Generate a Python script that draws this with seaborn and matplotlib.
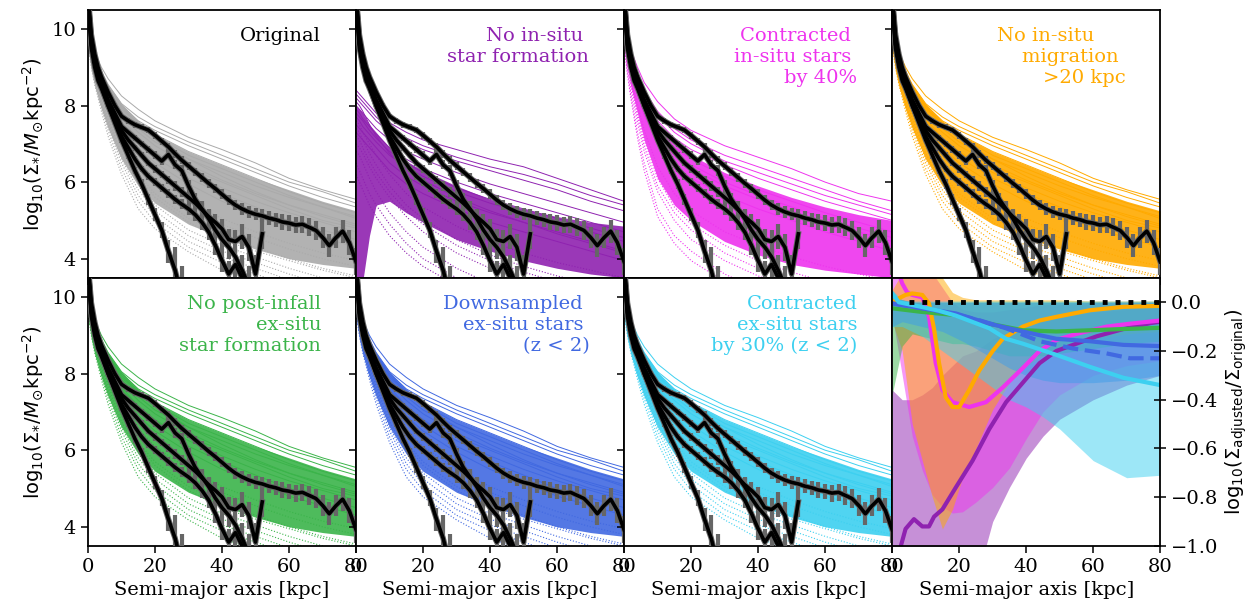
import numpy as np
import pandas as pd
import seaborn as sns
import matplotlib.pyplot as plt

plt.rcParams['font.family'] = 'DejaVu Serif'
plt.rcParams['mathtext.fontset'] = 'dejavusans'
plt.rcParams['font.size'] = 14
plt.rcParams['axes.linewidth'] = 1.3
plt.rcParams['xtick.major.size'] = 5
plt.rcParams['ytick.major.size'] = 5
plt.rcParams['xtick.major.width'] = 1.1
plt.rcParams['ytick.major.width'] = 1.1

# ---- simulated surface density profiles, log10(Sigma) at sim_r [kpc]
sim_r = [0, 1, 2, 4, 6, 10, 15, 20, 30, 40, 50, 60, 70, 80]

base_solid = [
    [10.2, 9.7, 9.4, 9.0, 8.7, 8.25, 7.9, 7.6, 7.17, 6.85, 6.5, 6.1, 5.8, 5.55],
    [10.3, 9.8, 9.4, 8.9, 8.55, 8.05, 7.7, 7.45, 7.05, 6.7, 6.35, 6.0, 5.75, 5.45],
    [10.1, 9.6, 9.25, 8.8, 8.45, 7.95, 7.55, 7.25, 6.8, 6.45, 6.1, 5.75, 5.45, 5.2],
    [10.4, 9.7, 9.3, 8.75, 8.4, 7.85, 7.4, 7.05, 6.6, 6.25, 5.9, 5.6, 5.35, 5.05],
    [10.0, 9.5, 9.15, 8.7, 8.3, 7.75, 7.3, 6.95, 6.45, 6.05, 5.7, 5.4, 5.1, 4.85],
    [10.2, 9.6, 9.2, 8.65, 8.25, 7.65, 7.15, 6.8, 6.25, 5.85, 5.5, 5.2, 4.95, 4.7],
    [9.9, 9.4, 9.05, 8.55, 8.15, 7.55, 7.05, 6.65, 6.1, 5.7, 5.35, 5.0, 4.75, 4.5],
    [10.1, 9.5, 9.1, 8.5, 8.05, 7.4, 6.9, 6.5, 5.95, 5.5, 5.15, 4.8, 4.55, 4.3],
    [10.3, 9.7, 9.35, 8.85, 8.5, 8.0, 7.6, 7.35, 6.95, 6.6, 6.25, 5.9, 5.6, 5.35],
    [10.0, 9.5, 9.2, 8.75, 8.4, 7.9, 7.5, 7.2, 6.7, 6.35, 6.0, 5.65, 5.35, 5.1],
    [10.2, 9.6, 9.2, 8.6, 8.2, 7.6, 7.1, 6.75, 6.35, 6.0, 5.65, 5.3, 5.0, 4.8],
    [10.1, 9.6, 9.3, 8.85, 8.5, 7.95, 7.5, 7.15, 6.6, 6.15, 5.75, 5.4, 5.15, 4.9],
]
base_dotted = [
    [10.0, 9.4, 9.0, 8.4, 7.9, 7.1, 6.4, 5.95, 5.3, 4.9, 4.55, 4.25, 4.0, 3.8],
    [9.8, 9.3, 8.9, 8.3, 7.8, 6.95, 6.2, 5.7, 5.05, 4.6, 4.3, 4.0, 3.75, 3.55],
    [9.9, 9.3, 8.85, 8.2, 7.65, 6.75, 5.95, 5.4, 4.75, 4.35, 4.05, 3.75, 3.5, 3.3],
    [9.7, 9.1, 8.7, 8.05, 7.45, 6.5, 5.65, 5.1, 4.45, 4.05, 3.75, 3.45, 3.2, 3.0],
    [9.6, 9.0, 8.55, 7.85, 7.2, 6.2, 5.3, 4.78, 4.18, 3.7, 3.4, 3.1, 2.9, 2.7],
    [9.9, 9.3, 8.9, 8.3, 7.75, 6.9, 6.15, 5.6, 4.95, 4.5, 4.2, 3.95, 3.7, 3.5],
    [9.8, 9.2, 8.75, 8.1, 7.55, 6.6, 5.8, 5.25, 4.6, 4.2, 3.9, 3.6, 3.35, 3.15],
    [9.7, 9.1, 8.65, 7.95, 7.35, 6.35, 5.5, 4.95, 4.3, 3.9, 3.6, 3.3, 3.1, 2.9],
    [10.1, 9.5, 9.05, 8.45, 7.95, 7.2, 6.55, 6.1, 5.5, 5.05, 4.7, 4.4, 4.15, 3.95],
]
base_core_lo = [9.5, 8.9, 8.5, 7.9, 7.4, 6.6, 5.9, 5.45, 4.9, 4.55, 4.25, 4.0, 3.85, 3.75]
base_core_hi = [10.1, 9.6, 9.3, 8.85, 8.55, 8.05, 7.6, 7.25, 6.8, 6.45, 6.1, 5.8, 5.5, 5.25]

insitu_solid = [
    [8.4, 8.3, 8.2, 8.0, 7.8, 7.55, 7.3, 7.1, 6.85, 6.6, 6.4, 6.1, 5.8, 5.5],
    [8.2, 8.1, 8.0, 7.8, 7.6, 7.3, 7.05, 6.85, 6.55, 6.3, 6.05, 5.8, 5.5, 5.25],
    [8.0, 7.9, 7.8, 7.6, 7.4, 7.1, 6.8, 6.6, 6.25, 5.95, 5.7, 5.45, 5.2, 4.95],
    [7.9, 7.8, 7.65, 7.45, 7.25, 6.9, 6.6, 6.35, 6.0, 5.7, 5.45, 5.2, 4.95, 4.7],
    [7.7, 7.6, 7.45, 7.25, 7.05, 6.7, 6.4, 6.15, 5.75, 5.45, 5.2, 4.95, 4.7, 4.45],
    [7.5, 7.4, 7.3, 7.1, 6.9, 6.5, 6.15, 5.9, 5.5, 5.2, 4.95, 4.7, 4.45, 4.2],
    [8.1, 8.0, 7.85, 7.5, 7.2, 6.75, 6.35, 6.05, 5.6, 5.25, 4.95, 4.65, 4.4, 4.15],
    [7.3, 7.2, 7.1, 6.9, 6.7, 6.3, 5.95, 5.7, 5.3, 4.95, 4.7, 4.45, 4.2, 3.95],
    [8.3, 8.2, 8.1, 7.9, 7.7, 7.4, 7.15, 6.95, 6.65, 6.4, 6.2, 5.95, 5.65, 5.4],
    [7.8, 7.7, 7.6, 7.35, 7.15, 6.8, 6.5, 6.25, 5.85, 5.55, 5.3, 5.05, 4.8, 4.55],
]
insitu_dotted = [
    [7.6, 7.5, 7.3, 7.0, 6.7, 6.2, 5.7, 5.35, 4.85, 4.45, 4.15, 3.9, 3.7, 3.5],
    [7.4, 7.3, 7.1, 6.75, 6.45, 5.9, 5.4, 5.05, 4.5, 4.1, 3.8, 3.55, 3.35, 3.2],
    [7.0, 6.9, 6.75, 6.4, 6.1, 5.6, 5.1, 4.7, 4.15, 3.75, 3.45, 3.2, 3.0, 2.8],
    [6.8, 6.7, 6.5, 6.1, 5.75, 5.2, 4.7, 4.3, 3.75, 3.35, 3.05, 2.8, 2.6, 2.4],
    [6.5, 6.3, 6.1, 5.7, 5.4, 4.9, 4.4, 4.0, 3.5, 3.1, 2.8, 2.6, 2.4, 2.2],
    [7.2, 7.1, 6.9, 6.55, 6.25, 5.75, 5.25, 4.9, 4.35, 3.95, 3.65, 3.4, 3.2, 3.0],
    [6.2, 6.0, 5.8, 5.4, 5.1, 4.6, 4.15, 3.8, 3.3, 2.9, 2.6, 2.4, 2.2, 2.0],
]
insitu_core_lo = [3.4, 3.4, 3.4, 4.6, 5.4, 5.5, 5.2, 4.95, 4.5, 4.2, 3.95, 3.75, 3.6, 3.5]
insitu_core_hi = [8.0, 7.9, 7.8, 7.5, 7.3, 6.9, 6.55, 6.3, 5.9, 5.55, 5.3, 5.1, 4.95, 4.85]

contract_solid = [
    [10.3, 9.8, 9.45, 9.0, 8.6, 8.1, 7.65, 7.35, 6.95, 6.65, 6.35, 6.0, 5.7, 5.5],
    [10.4, 9.8, 9.4, 8.85, 8.4, 7.85, 7.4, 7.1, 6.7, 6.4, 6.1, 5.8, 5.5, 5.25],
    [10.2, 9.7, 9.3, 8.7, 8.25, 7.6, 7.15, 6.85, 6.45, 6.1, 5.8, 5.5, 5.25, 5.0],
    [10.3, 9.7, 9.25, 8.6, 8.1, 7.4, 6.9, 6.6, 6.15, 5.8, 5.5, 5.2, 4.95, 4.7],
    [10.1, 9.5, 9.05, 8.4, 7.9, 7.2, 6.7, 6.35, 5.9, 5.55, 5.25, 4.95, 4.7, 4.45],
    [10.0, 9.4, 8.95, 8.3, 7.75, 7.0, 6.45, 6.1, 5.65, 5.3, 5.0, 4.7, 4.45, 4.2],
    [10.2, 9.7, 9.35, 8.8, 8.35, 7.75, 7.3, 7.0, 6.55, 6.25, 5.95, 5.65, 5.4, 5.15],
    [10.1, 9.6, 9.2, 8.55, 8.0, 7.3, 6.8, 6.45, 6.0, 5.65, 5.35, 5.05, 4.8, 4.55],
]
contract_dotted = [
    [10.0, 9.3, 8.8, 8.0, 7.35, 6.4, 5.7, 5.25, 4.7, 4.35, 4.05, 3.8, 3.6, 3.4],
    [9.9, 9.2, 8.65, 7.8, 7.1, 6.1, 5.35, 4.9, 4.35, 3.95, 3.65, 3.4, 3.2, 3.0],
    [9.8, 9.0, 8.45, 7.55, 6.8, 5.75, 5.0, 4.5, 3.95, 3.55, 3.25, 3.0, 2.8, 2.6],
    [9.7, 8.9, 8.3, 7.3, 6.5, 5.3, 4.6, 4.2, 3.6, 3.2, 2.9, 2.6, 2.4, 2.2],
    [9.9, 9.15, 8.6, 7.7, 6.95, 5.9, 5.2, 4.75, 4.15, 3.75, 3.45, 3.2, 3.0, 2.8],
    [9.6, 8.8, 8.2, 7.15, 6.3, 5.1, 4.4, 3.95, 3.4, 3.0, 2.7, 2.45, 2.25, 2.05],
]
contract_core_lo = [9.7, 9.0, 8.5, 7.8, 7.1, 6.1, 5.4, 5.0, 4.45, 4.1, 3.85, 3.7, 3.6, 3.5]
contract_core_hi = [10.2, 9.6, 9.2, 8.6, 8.15, 7.5, 7.0, 6.7, 6.25, 5.9, 5.6, 5.35, 5.15, 5.0]

# ---- observed profiles (black, with errors)
obs_r = [0, 1, 2, 3, 4] + list(range(6, 81, 2))
obs_A = [10.9, 9.85, 9.35, 9.0, 8.75, 8.35, 8.0, 7.72, 7.6, 7.5, 7.43, 7.36, 7.22, 7.07,
         6.92, 6.74, 6.57, 6.42, 6.27, 6.12, 5.97, 5.83, 5.68, 5.53, 5.4, 5.3, 5.22, 5.16,
         5.12, 5.06, 5.02, 4.96, 4.93, 4.88, 4.9, 4.82, 4.74, 4.56, 4.34, 4.55, 4.72, 4.42, 3.92]
obs_A_err = [0.05, 0.05, 0.05, 0.05, 0.05, 0.06, 0.06, 0.07, 0.07, 0.08, 0.08, 0.08, 0.09, 0.09,
             0.1, 0.1, 0.1, 0.1, 0.11, 0.11, 0.12, 0.12, 0.13, 0.13, 0.14, 0.15, 0.15, 0.16,
             0.17, 0.18, 0.18, 0.2, 0.2, 0.22, 0.22, 0.24, 0.25, 0.27, 0.3, 0.28, 0.3, 0.32, 0.35]
obs_B = [10.8, 9.7, 9.2, 8.85, 8.6, 8.15, 7.8, 7.45, 7.3, 7.15, 7.0, 6.85, 6.7, 6.55,
         6.72, 6.45, 6.3, 5.9, 5.55, 5.3, 5.05, 4.75, 4.5, 4.3, 4.05, 3.7, 3.3]
obs_B_err = [0.05, 0.05, 0.05, 0.05, 0.05, 0.06, 0.06, 0.07, 0.07, 0.08, 0.08, 0.09, 0.1, 0.1,
             0.12, 0.12, 0.14, 0.15, 0.17, 0.2, 0.22, 0.25, 0.28, 0.3, 0.35, 0.4, 0.5]
obs_C = [10.7, 9.6, 9.1, 8.8, 8.55, 8.1, 7.7, 7.35, 7.1, 6.9, 6.7, 6.5, 6.35, 6.2,
         6.05, 5.9, 5.75, 5.6, 5.45, 5.28, 5.1, 4.95, 4.78, 4.5, 4.45, 4.58, 4.3, 3.6, 4.65]
obs_C_err = [0.05, 0.05, 0.05, 0.05, 0.05, 0.06, 0.06, 0.07, 0.07, 0.08, 0.08, 0.09, 0.1, 0.1,
             0.11, 0.12, 0.13, 0.14, 0.15, 0.17, 0.2, 0.22, 0.25, 0.28, 0.3, 0.32, 0.35, 0.5, 0.4]
obs_D = [10.8, 9.6, 9.1, 8.75, 8.5, 8.0, 7.55, 7.1, 6.7, 6.3, 5.95, 5.55, 5.15, 4.75, 4.2, 3.7, 3.0]
obs_D_err = [0.05, 0.05, 0.05, 0.05, 0.05, 0.06, 0.07, 0.08, 0.09, 0.1, 0.12, 0.14, 0.17,
             0.2, 0.3, 0.6, 0.8]
obs_E = [10.7, 9.5, 9.0, 8.65, 8.45, 8.0, 7.6, 7.2, 6.9, 6.6, 6.35, 6.15, 6.0, 5.85,
         5.7, 5.55, 5.42, 5.3, 5.15, 4.95, 4.7, 4.35, 3.95, 3.6, 3.85, 3.5, 3.1]
obs_E_err = [0.05, 0.05, 0.05, 0.05, 0.05, 0.06, 0.06, 0.07, 0.07, 0.08, 0.08, 0.09, 0.1, 0.1,
             0.11, 0.12, 0.13, 0.15, 0.17, 0.2, 0.22, 0.25, 0.3, 0.35, 0.4, 0.45, 0.5]

# ---- ratio panel: median lines and scatter bands
band_r = [0, 3, 6, 9, 12, 15, 18, 21, 25, 30, 35, 40, 45, 50, 60, 70, 80]
band_purple_lo = [-1.2, -1.2, -1.2, -1.2, -1.2, -1.2, -1.2, -1.2, -1.15, -0.9, -0.76, -0.64, -0.55, -0.48, -0.4, -0.34, -0.3]
band_purple_hi = [-0.36, -0.40, -0.40, -0.38, -0.35, -0.3, -0.26, -0.22, -0.2, -0.15, -0.12, -0.09, -0.07, -0.06, -0.04, -0.03, -0.02]
band_magenta_lo = [-0.05, -0.3, -0.55, -0.69, -0.79, -0.84, -0.865, -0.86, -0.82, -0.76, -0.68, -0.56, -0.45, -0.38, -0.3, -0.26, -0.24]
band_magenta_hi = [0.15, 0.15, 0.15, 0.15, 0.12, 0.06, 0.0, -0.03, -0.04, -0.04, -0.03, -0.02, -0.01, -0.01, 0.0, 0.0, 0.0]
band_orange_lo = [-0.08, -0.2, -0.5, -0.65, -0.8, -0.93, -0.85, -0.72, -0.6, -0.44, -0.33, -0.26, -0.22, -0.19, -0.15, -0.13, -0.12]
band_orange_hi = [0.05, 0.12, 0.15, 0.15, 0.15, 0.1, 0.04, 0.02, 0.01, 0.01, 0.01, 0.01, 0.01, 0.01, 0.005, 0.005, 0.005]
band_green_lo = [-0.38, -0.18, -0.13, -0.14, -0.15, -0.16, -0.17, -0.17, -0.18, -0.2, -0.22, -0.22, -0.22, -0.21, -0.19, -0.17, -0.16]
band_green_hi = [0.02, 0.01, 0.0, 0.0, 0.0, 0.0, 0.0, 0.0, 0.0, 0.0, 0.0, 0.0, 0.0, 0.0, 0.0, 0.0, 0.0]
band_blue_lo = [-0.1, -0.08, -0.09, -0.1, -0.11, -0.12, -0.14, -0.16, -0.19, -0.23, -0.27, -0.3, -0.32, -0.33, -0.33, -0.32, -0.3]
band_blue_hi = [0.03, 0.01, 0.0, 0.0, 0.0, 0.0, 0.0, 0.0, 0.0, 0.0, 0.0, 0.0, 0.0, 0.0, 0.0, 0.0, 0.0]
band_cyan_lo = [-0.1, -0.1, -0.12, -0.14, -0.17, -0.2, -0.23, -0.26, -0.3, -0.35, -0.4, -0.43, -0.47, -0.52, -0.65, -0.72, -0.71]
band_cyan_hi = [0.05, 0.01, 0.005, 0.005, 0.005, 0.005, 0.005, 0.005, 0.005, 0.005, 0.005, 0.005, 0.005, 0.005, 0.005, 0.005, 0.005]

med_purple_r = [0, 2.6, 4, 6.5, 9, 11, 12.5, 15, 19, 24, 29, 34, 39, 44, 49, 55, 61, 69, 77, 80]
med_purple = [-1.2, -1.0, -0.93, -0.89, -0.92, -0.92, -0.88, -0.85, -0.76, -0.65, -0.52, -0.41, -0.33, -0.25, -0.2, -0.17, -0.14, -0.11, -0.086, -0.08]
med_magenta_r = [0, 2, 3, 4.5, 6, 9, 11, 13, 15, 18, 23, 28, 33, 39, 44, 49, 55, 64, 71, 80]
med_magenta = [0.2, 0.12, 0.077, 0.04, 0.03, 0.02, -0.06, -0.25, -0.36, -0.41, -0.43, -0.41, -0.35, -0.27, -0.2, -0.155, -0.13, -0.1, -0.088, -0.075]
med_orange_r = [0, 2, 4, 6, 9, 11, 12.5, 14, 16, 18, 20, 23, 26, 30, 33, 39, 44, 49, 59, 69, 80]
med_orange = [0.0, 0.016, 0.03, 0.036, 0.03, -0.005, -0.11, -0.25, -0.39, -0.43, -0.43, -0.36, -0.28, -0.2, -0.15, -0.1, -0.075, -0.06, -0.033, -0.019, -0.015]
med_green_r = [0, 9, 19, 29, 39, 49, 59, 69, 80]
med_green = [-0.025, -0.04, -0.053, -0.088, -0.115, -0.12, -0.115, -0.11, -0.105]
med_blue_r = [0, 9, 19, 29, 39, 49, 59, 69, 80]
med_blue = [-0.005, -0.025, -0.046, -0.088, -0.12, -0.15, -0.16, -0.175, -0.18]
med_blue2_r = [0, 9, 19, 26, 34, 44, 54, 64, 71, 80]
med_blue2 = [-0.005, -0.025, -0.05, -0.074, -0.107, -0.16, -0.19, -0.21, -0.23, -0.23]
med_cyan_r = [0, 2, 9, 14, 19, 29, 34, 39, 49, 59, 69, 80]
med_cyan = [0.036, 0.0, -0.02, -0.035, -0.055, -0.107, -0.15, -0.17, -0.216, -0.265, -0.31, -0.34]
zero_r = [5, 80]
zero_val = [0.0, 0.0]

c_gray, c_purple, c_magenta = '#aaaaaa', '#8f22b0', '#ee33ee'
c_orange, c_green, c_blue, c_cyan = '#ffaa00', '#3bb44a', '#4169e1', '#3dd0f0'

panels = [
    ('Original', 'black', c_gray, base_solid, base_dotted, base_core_lo, base_core_hi),
    ('No in-situ \nstar formation', c_purple, c_purple, insitu_solid, insitu_dotted, insitu_core_lo, insitu_core_hi),
    ('Contracted \nin-situ stars \nby 40%', c_magenta, c_magenta, contract_solid, contract_dotted, contract_core_lo, contract_core_hi),
    ('No in-situ     \nmigration \n>20 kpc', c_orange, c_orange, base_solid, base_dotted, base_core_lo, base_core_hi),
    ('No post-infall\nex-situ\nstar formation', c_green, c_green, base_solid, base_dotted, base_core_lo, base_core_hi),
    ('Downsampled \nex-situ stars \n(z < 2)', c_blue, c_blue, base_solid, base_dotted, base_core_lo, base_core_hi),
    ('Contracted\nex-situ stars\nby 30% (z < 2)', c_cyan, c_cyan, base_solid, base_dotted, base_core_lo, base_core_hi),
]

obs_list = [(obs_A, obs_A_err), (obs_B, obs_B_err), (obs_C, obs_C_err),
            (obs_D, obs_D_err), (obs_E, obs_E_err)]


def to_long(profiles):
    rows = []
    for i, prof in enumerate(profiles):
        for r, v in zip(sim_r, prof):
            rows.append({'r': r, 'sigma': v, 'unit': i})
    return pd.DataFrame(rows)


fig, axes = plt.subplots(2, 4, figsize=(12.57, 6.10), dpi=100, sharex=True)
fig.subplots_adjust(left=0.070, right=0.923, top=0.984, bottom=0.105, wspace=0, hspace=0)
axs = axes.ravel()

for k, (label, tcol, col, solid, dotted, core_lo, core_hi) in enumerate(panels):
    ax = axs[k]
    ax.fill_between(sim_r, core_lo, core_hi, color=col, lw=0, alpha=0.9, zorder=1)
    sns.lineplot(data=to_long(solid), x='r', y='sigma', units='unit', estimator=None,
                 color=col, lw=0.7, ax=ax, zorder=2)
    sns.lineplot(data=to_long(dotted), x='r', y='sigma', units='unit', estimator=None,
                 color=col, lw=0.8, linestyle=':', ax=ax, zorder=2)
    for prof, err in obs_list:
        x = obs_r[:len(prof)]
        # thin gray halo of the error bars along the profile
        ax.plot(x, prof, color='#666666', lw=4.0, zorder=4)
        ax.errorbar(x, prof, yerr=err, fmt='-', color='black', lw=2.6, ecolor='#666666',
                    elinewidth=3, capsize=0, zorder=5)
    ax.text(0.87, 0.935, label, transform=ax.transAxes, ha='right', va='top',
            multialignment='right', color=tcol, fontsize=14)
    ax.set_ylim(3.5, 10.5)
    ax.set_yticks([4, 6, 8, 10])
    ax.set_xlabel('')
    ax.set_ylabel('')
    if k % 4 != 0:
        ax.tick_params(labelleft=False)

# ratio panel
ax = axs[7]
bands = [(band_purple_lo, band_purple_hi, c_purple), (band_magenta_lo, band_magenta_hi, c_magenta),
         (band_orange_lo, band_orange_hi, c_orange), (band_green_lo, band_green_hi, c_green),
         (band_blue_lo, band_blue_hi, c_blue), (band_cyan_lo, band_cyan_hi, c_cyan)]
for lo, hi, col in bands:
    ax.fill_between(band_r, lo, hi, color=col, alpha=0.5, lw=0)
meds = [(med_purple_r, med_purple, c_purple, '-'), (med_magenta_r, med_magenta, c_magenta, '-'),
        (med_orange_r, med_orange, c_orange, '-'), (med_green_r, med_green, c_green, '-'),
        (med_blue_r, med_blue, c_blue, '-'), (med_blue2_r, med_blue2, c_blue, '--'),
        (med_cyan_r, med_cyan, c_cyan, '-')]
for r, v, col, ls in meds:
    sns.lineplot(x=r, y=v, color=col, lw=3, linestyle=ls, ax=ax, sort=False)
ax.plot(zero_r, zero_val, color='black', lw=3.5, linestyle=':', zorder=6)
ax.set_ylim(-1.0, 0.1)
ax.set_yticks([0.0, -0.2, -0.4, -0.6, -0.8, -1.0])
ax.yaxis.tick_right()
ax.yaxis.set_label_position('right')
ax.tick_params(axis='y', direction='inout', length=8)
ax.set_ylabel(r'$\mathrm{log}_{10}(\Sigma_{\rm adjusted}/\Sigma_{\rm original})$', fontsize=14)

for ax in axs:
    ax.set_xlim(0, 80)
    ax.set_xticks([0, 20, 40, 60, 80])
for ax in axes[1]:
    ax.set_xlabel('Semi-major axis [kpc]', fontsize=14)
for ax in axes[:, 0]:
    ax.set_ylabel(r'$\mathrm{log}_{10}(\Sigma_{*}/M_{\odot}\mathrm{kpc}^{-2})$', fontsize=14)

fig.savefig('out.png', dpi=100)
